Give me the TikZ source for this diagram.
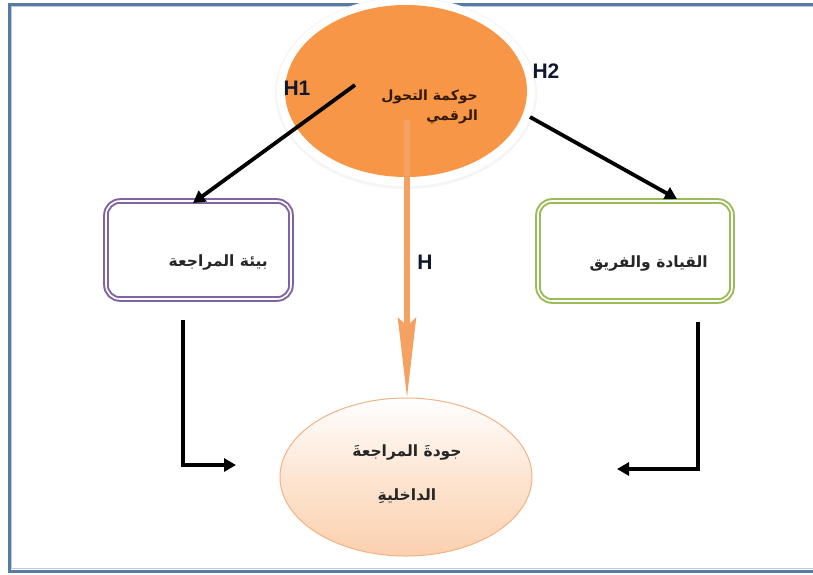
\documentclass[tikz,border=0pt]{standalone}
\usepackage{fontspec}
\setmainfont{Liberation Sans}
\newfontfamily\arabicfont[Script=Arabic]{DejaVu Sans}
\TeXXeTstate=1
\usetikzlibrary{arrows.meta,shapes.geometric}
\definecolor{frameblue}{HTML}{5A7AA6}
\definecolor{orangefill}{HTML}{F79646}
\definecolor{arroworange}{HTML}{F5A162}
\definecolor{purp}{HTML}{8064A2}
\definecolor{grn}{HTML}{9BBB59}
\definecolor{peach}{HTML}{FBD0AE}
\definecolor{peachline}{HTML}{F4B183}
\definecolor{navy}{HTML}{101830}
\tikzset{
  hlabel/.style={font=\bfseries\fontsize{21}{24}\selectfont, text=navy, inner sep=0pt},
  artext/.style={font=\arabicfont\bfseries\fontsize{15.5}{19}\selectfont, text=black!85, inner sep=0pt},
  artextsmall/.style={font=\arabicfont\bfseries\fontsize{14}{17}\selectfont, text=black!80!orange, inner sep=0pt},
  boxstyle/.style={rectangle, rounded corners=14pt, line width=2pt, double=white, double distance=1.6pt, inner sep=0pt},
  blackarrow/.style={line width=3.8pt, -{Triangle[length=12pt,width=13pt]}},
}
\begin{document}
\begin{tikzpicture}[x=1pt,y=-1pt]
\useasboundingbox (0,0) rectangle (813,574);
% frame
\draw[frameblue, line width=3pt] (830,4) -- (9,4) -- (9,571) -- (830,571);
\draw[frameblue!40, line width=0.8pt] (830,6.5) -- (11.5,6.5) -- (11.5,568.5) -- (830,568.5);

% top ellipse with white glow
\fill[black!4] (406,93) ellipse [x radius=131, y radius=96];
\fill[white] (406,92) ellipse [x radius=129, y radius=94];
\node[ellipse, fill=orangefill, minimum width=242, minimum height=172, inner sep=0pt] (gov) at (406,91) {};
\node[artextsmall, align=right, anchor=north east] (govtext) at (478,90) {\beginR حوكمة التحول\endR\\[3pt] \beginR الرقمي\endR};

% boxes
\node[boxstyle, draw=purp, minimum width=185, minimum height=98] (env) at (198.5,250) {};
\node[artext, anchor=east] (envtext) at (268,262) {\beginR بيئة المراجعة\endR};
\node[boxstyle, draw=grn, minimum width=194, minimum height=100] (lead) at (635,251) {};
\node[artext, anchor=east] (leadtext) at (708,264) {\beginR القيادة والفريق\endR};

% bottom ellipse
\node[ellipse, draw=peachline, line width=1pt, top color=white, bottom color=peach, middle color=peach!55, minimum width=252, minimum height=158, inner sep=0pt] (qual) at (406,477) {};
\node[artext] (qualtext1) at (407,452) {\beginR جودةَ المراجعةَ\endR};
\node[artext] (qualtext2) at (407,496) {\beginR الداخليةِ\endR};

% coordinates
\coordinate (h1s) at (355,85);
\coordinate (h1e) at (193,203);
\coordinate (h2s) at (530,117);
\coordinate (h2e) at (677,199);
\coordinate (hs) at (407,120);
\coordinate (he) at (407,398);
\coordinate (ls) at (183,320);
\coordinate (lc) at (183,465);
\coordinate (le) at (236,465);
\coordinate (rs) at (698,322);
\coordinate (rc) at (698,469);
\coordinate (re) at (617,469);

% connectors
\draw[blackarrow] (h1s) -- (h1e);
\draw[blackarrow] (h2s) -- (h2e);
\draw[arroworange, line width=6pt, -{Stealth[length=80pt,width=18pt,inset=8pt]}] (hs) -- (he);
\draw[blackarrow] (ls) -- (lc) -- (le);
\draw[blackarrow] (rs) -- (rc) -- (re);

% labels
\node[hlabel] (H1) at (297,88) {H1};
\node[hlabel] (H2) at (546,71) {H2};
\node[hlabel] (H) at (425,262) {H};
\end{tikzpicture}
\end{document}
